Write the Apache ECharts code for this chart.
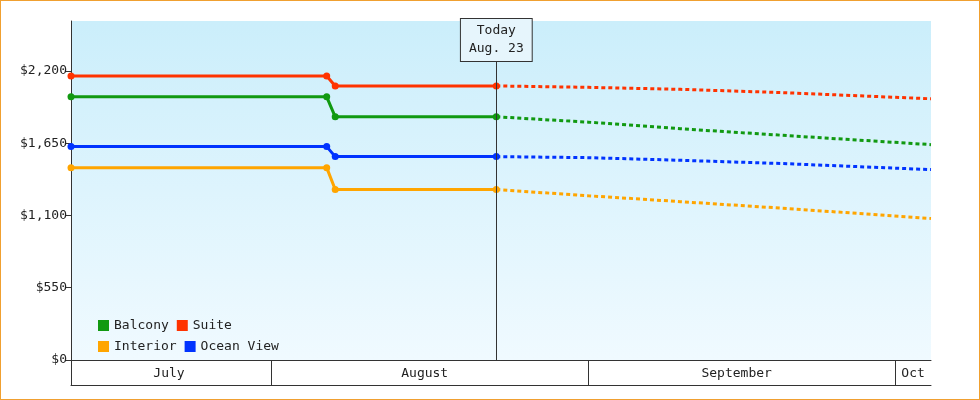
<!DOCTYPE html>
<html><head><meta charset="utf-8">
<script src="https://cdn.jsdelivr.net/npm/echarts@6/dist/echarts.min.js"></script>
<style>html,body{margin:0;padding:0;background:#fff}#c{width:978px;height:398px;border:1px solid #f0a030}</style>
</head><body><div id="c"></div>
<script>
const seriesNames = ['Balcony', 'Suite', 'Interior', 'Ocean View'];
const colors = ['#119911', '#ff3300', '#ffa500', '#0033ff'];
const solidDates = ['2024-07-12 10:00', '2024-08-06 10:00', '2024-08-07 06:00', '2024-08-23'];
const dottedDates = ['2024-08-23', '2024-09-01', '2024-09-10', '2024-09-20', '2024-10-04 12:00'];
const solidValues = {
  'Balcony': [2003, 2003, 1851, 1851],
  'Suite': [2162, 2162, 2086, 2086],
  'Interior': [1464, 1464, 1297, 1297],
  'Ocean View': [1624, 1624, 1548, 1548]
};
const dottedValues = {
  'Balcony': [1851, 1810, 1760, 1710, 1639],
  'Suite': [2086, 2075, 2060, 2035, 1988],
  'Interior': [1297, 1250, 1205, 1155, 1077],
  'Ocean View': [1548, 1540, 1520, 1495, 1449]
};
const yTicks = [0, 550, 1100, 1650, 2200];
const monthBounds = ['2024-07-12 10:00', '2024-08-01', '2024-09-01', '2024-10-01'];
const monthLabelDates = ['2024-07-22', '2024-08-16', '2024-09-15 12:00', '2024-10-02 18:00'];
const monthLabels = ['July', 'August', 'September', 'Oct'];
const today = '2024-08-23';
const todayLabel = 'Today\nAug. 23';

const font = 'DejaVu Sans Mono';
const t = s => new Date(s.replace(' ', 'T') + (s.length > 10 ? ':00Z' : 'T00:00:00Z')).getTime();
const labelTs = monthLabelDates.map(t);
const series = [];
seriesNames.forEach((n, i) => {
  series.push({
    name: n, type: 'line', color: colors[i],
    data: solidDates.map((d, j) => [t(d), solidValues[n][j]]),
    symbol: 'circle', symbolSize: 7, lineStyle: {width: 3}, clip: false,
    markLine: i === 0 ? {
      silent: true, symbol: 'none',
      lineStyle: {color: '#333', width: 1, type: 'solid'},
      label: {show: true, position: 'end', distance: 0, formatter: todayLabel,
        fontFamily: font, fontSize: 13, color: '#222', lineHeight: 18,
        backgroundColor: '#e6f5fc', borderColor: '#333', borderWidth: 1, padding: [3, 8]},
      data: [[{coord: [t(today), 0]}, {coord: [t(today), 2276]}]]
    } : undefined
  });
  series.push({
    name: n, type: 'line', color: colors[i],
    data: dottedDates.map((d, j) => [t(d), dottedValues[n][j]]),
    symbol: 'none', lineStyle: {width: 3, type: [4, 3]}
  });
});
const chart = echarts.init(document.getElementById('c'));
chart.setOption({
  animation: false,
  textStyle: {fontFamily: font},
  grid: {left: 70, right: 48, top: 20, bottom: 39, show: true, borderWidth: 0,
    backgroundColor: new echarts.graphic.LinearGradient(0, 0, 0, 1, [
      {offset: 0, color: '#cbeefb'}, {offset: 1, color: '#f0faff'}])},
  legend: {left: 92, top: 313, width: 200, itemWidth: 11, itemHeight: 11, itemGap: 8,
    icon: 'rect', data: seriesNames, textStyle: {fontFamily: font, fontSize: 13, color: '#222', width: 70}},
  xAxis: [{
    type: 'value', min: t(monthBounds[0]), max: t(dottedDates[4]),
    axisLine: {lineStyle: {color: '#333'}},
    splitLine: {show: false},
    axisTick: {show: true, customValues: monthBounds.map(t), length: 25, lineStyle: {color: '#333'}},
    axisLabel: {customValues: labelTs, formatter: (v) => monthLabels[labelTs.indexOf(v)],
      fontFamily: font, fontSize: 13, color: '#222', margin: 7, hideOverlap: false, showMinLabel: true, showMaxLabel: true}
  }, {
    type: 'value', position: 'bottom', offset: 25, min: t(monthBounds[0]), max: t(dottedDates[4]),
    axisLine: {show: true, lineStyle: {color: '#333'}}, axisTick: {show: false}, axisLabel: {show: false}, splitLine: {show: false}
  }],
  yAxis: {
    type: 'value', min: 0, max: 2580, interval: 550,
    axisLine: {show: true, lineStyle: {color: '#333'}},
    axisTick: {show: true, customValues: yTicks, length: 6, lineStyle: {color: '#333'}},
    splitLine: {show: false},
    axisLabel: {customValues: yTicks, formatter: v => '$' + v.toLocaleString('en-US'),
      fontFamily: font, fontSize: 13, color: '#222', margin: 4}
  },
  series: series
});
</script></body></html>
